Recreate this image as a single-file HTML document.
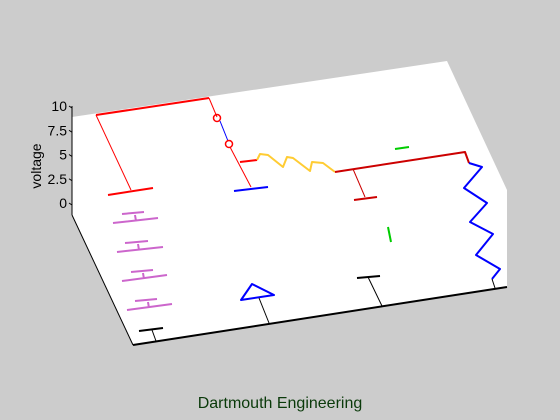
<!DOCTYPE html>
<html><head><meta charset="utf-8"><style>
html,body{margin:0;padding:0;background:#cccccc;}
svg{display:block;font-family:"Liberation Sans",sans-serif;}
</style></head><body>
<svg id="fig" width="560" height="420" viewBox="0 0 560 420">
<rect width="560" height="420" fill="#cccccc"/>
<polygon points="72,117 447,61 507,190 507,287 133,345 72,215" fill="#ffffff"/>
<g id="zaxis">
<line x1="72" y1="106" x2="72" y2="215" stroke="#000" stroke-width="1"/>
<polyline points="72,215 133,345" fill="none" stroke="#000" stroke-width="1"/>
</g>
<text x="0" y="0" transform="translate(41,166) rotate(-90)" text-anchor="middle" font-size="14" fill="#000">voltage</text>
<g fill="none" stroke-linejoin="round">
<polyline points="96,115 209,98" stroke="#ff0000" stroke-width="2"/>
<polyline points="96,115 131,190" stroke="#ff0000" stroke-width="1"/>
<polyline points="108,195 153,188" stroke="#ff0000" stroke-width="2"/>
<polyline points="209,98 217,117" stroke="#ff0000" stroke-width="1"/>
<circle cx="217" cy="118" r="3.5" stroke="#ff0000" stroke-width="1.5"/>
<polyline points="220,121 228,141" stroke="#0000ff" stroke-width="1"/>
<circle cx="229" cy="144" r="3.5" stroke="#ff0000" stroke-width="1.5"/>
<polyline points="230,147 251,187" stroke="#ff0000" stroke-width="1"/>
<polyline points="234,191 268,187" stroke="#0000ff" stroke-width="2"/>
<polyline points="240,162 257,160" stroke="#ff0000" stroke-width="2"/>
<polyline points="257,160 260,154 268,155 283,167 287,157 293,158 310,171 312,162 323,163 335,172" stroke="#ffcc33" stroke-width="2"/>
<polyline points="335,172 465,152 469,163" stroke="#cc0000" stroke-width="2"/>
<polyline points="353,169 365,197" stroke="#cc0000" stroke-width="1"/>
<polyline points="354,200 377,197" stroke="#cc0000" stroke-width="2"/>
<polyline points="469,163 482,167 464,188 487,203 470,222 493,234 476,255 500,269 492,279" stroke="#0000ff" stroke-width="2"/>
<polyline points="492,279 495,288" stroke="#000" stroke-width="1"/>
<polyline points="395,149 409,147" stroke="#00cc00" stroke-width="2"/>
<polyline points="388,227 391,242" stroke="#00cc00" stroke-width="2"/>
<polyline points="357,278 380,276" stroke="#000" stroke-width="2"/>
<polyline points="368,277 382,306" stroke="#000" stroke-width="1"/>
<polyline points="139,331 163,328" stroke="#000" stroke-width="2"/>
<polyline points="152,330 156,341" stroke="#000" stroke-width="1"/>
<polygon points="241,300 252,284 274,295" stroke="#0000ff" stroke-width="2"/>
<polyline points="259,298 269,323" stroke="#000" stroke-width="1"/>
<polyline points="133,345 507,287" stroke="#000" stroke-width="2"/>
<g stroke="#cc66cc">
<path d="M122,214 L144,212 M113,223 L158,218 M135,215 L136,221" stroke-width="2"/>
<path d="M125,243 L148,241 M117,252 L163,247 M138,244 L139,250" stroke-width="2"/>
<path d="M131,272 L153,270 M122,281 L167,275 M143,273 L144,279" stroke-width="2"/>
<path d="M135,301 L157,299 M127,310 L172,304 M148,302 L149,308" stroke-width="2"/>
</g>
</g>
<text x="280" y="408" text-anchor="middle" font-size="16" fill="#0a3a0a">Dartmouth Engineering</text>
</svg>
<script>
const zTicks = [0, 2.5, 5, 7.5, 10];
const zTickLabels = ["0", "2.5", "5", "7.5", "10"];
function zScale(v){ return 203 - (v/10)*(203-106); }
const ns = "http://www.w3.org/2000/svg";
const ax = document.getElementById('zaxis');
zTicks.forEach((t,i)=>{
  const y = zScale(t);
  const tk = document.createElementNS(ns,'line');
  tk.setAttribute('x1',69); tk.setAttribute('x2',72);
  tk.setAttribute('y1',y); tk.setAttribute('y2',y+2);
  tk.setAttribute('stroke','#000');
  
  
  ax.appendChild(tk);
  const tx = document.createElementNS(ns,'text');
  tx.setAttribute('x',67); tx.setAttribute('y',y+5);
  tx.setAttribute('text-anchor','end');
  tx.setAttribute('font-size','14');
  tx.setAttribute('fill','#000');
  tx.textContent = zTickLabels[i];
  
  
  ax.appendChild(tx);
});
</script>
</body></html>
